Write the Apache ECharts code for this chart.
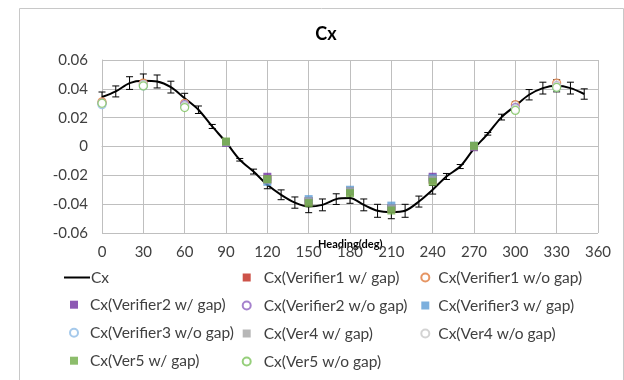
<!DOCTYPE html>
<html>
<head>
<meta charset="utf-8">
<script src="https://cdn.jsdelivr.net/npm/echarts@6/dist/echarts.min.js"></script>
<style>
  html, body { margin: 0; padding: 0; background: #fff; }
  #chart { width: 624px; height: 380px; }
</style>
</head>
<body>
<div id="chart"></div>
<script>
// Heading angles (deg) of the reference curve and its values
const headings = [0, 10, 20, 30, 40, 50, 60, 70, 80, 90, 100, 110, 120, 130, 140, 150, 160, 170,
                  180, 190, 200, 210, 220, 230, 240, 250, 260, 270, 280, 290, 300, 310, 320, 330, 340, 350];
const cxValues = [0.0343, 0.0382, 0.0440, 0.0456, 0.0451, 0.0412, 0.0335, 0.0255, 0.0139, 0.0030,
                  -0.0092, -0.0174, -0.0266, -0.0335, -0.0389, -0.0417, -0.0405, -0.0365,
                  -0.0358, -0.0405, -0.0446, -0.0455, -0.0446, -0.0382, -0.0300, -0.0208,
                  -0.0139, -0.0015, 0.0088, 0.0204, 0.0282, 0.0359, 0.0405, 0.0421, 0.0405, 0.0364];
// Half-height of each error bar
const cxErrors = [0.0035, 0.0038, 0.0044, 0.0047, 0.0045, 0.0041, 0.0034, 0.0026, 0.0014, 0.0003,
                  0.0009, 0.0017, 0.0027, 0.0034, 0.0039, 0.0042, 0.0041, 0.0037,
                  0.0036, 0.0041, 0.0045, 0.0046, 0.0045, 0.0038, 0.0030, 0.0021,
                  0.0014, 0.0002, 0.0009, 0.0020, 0.0028, 0.0036, 0.0041, 0.0042, 0.0041, 0.0036];

// Verifier runs with gap
const gapHeadings = [90, 120, 150, 180, 210, 240, 270];
const ver1Gap = [0.0030, -0.0230, -0.0380, -0.0310, -0.0430, -0.0230, 0.0000];
const ver2Gap = [0.0025, -0.0210, -0.0380, -0.0310, -0.0430, -0.0210, -0.0005];
const ver3Gap = [0.0030, -0.0245, -0.0365, -0.0300, -0.0410, -0.0220, 0.0005];
const ver4Gap = [0.0030, -0.0230, -0.0380, -0.0310, -0.0430, -0.0230, 0.0000];
const ver5Gap = [0.0035, -0.0226, -0.0393, -0.0324, -0.0444, -0.0245, 0.0005];

// Verifier runs without gap
const noGapHeadings = [0, 30, 60, 300, 330];
const ver1NoGap = [0.031, 0.044, 0.030, 0.029, 0.044];
const ver2NoGap = [0.030, 0.043, 0.029, 0.027, 0.042];
const ver3NoGap = [0.029, 0.042, 0.028, 0.026, 0.041];
const ver4NoGap = [0.030, 0.043, 0.028, 0.026, 0.042];
const ver5NoGap = [0.030, 0.042, 0.027, 0.025, 0.041];

const xTicks = { min: 0, max: 360, interval: 30 };
const yTicks = { min: -0.06, max: 0.06, interval: 0.02 };

const textColor = '#404040';
const gridColor = '#bfbfbf';
const fontFamily = 'Lato, "Open Sans", sans-serif';

function zip(xs, ys) { return xs.map((x, i) => [x, ys[i]]); }

function squareSeries(name, xs, ys, color) {
  return {
    name, type: 'scatter', data: zip(xs, ys), symbol: 'rect', symbolSize: 8,
    itemStyle: { color }, z: 5
  };
}
function circleSeries(name, xs, ys, color) {
  return {
    name, type: 'scatter', data: zip(xs, ys), symbol: 'circle', symbolSize: 8,
    itemStyle: { color: '#fff', borderColor: color, borderWidth: 1.2 }, z: 5
  };
}

const series = [
  {
    name: 'Cx', type: 'line', data: zip(headings, cxValues), smooth: 0.3,
    symbol: 'none', lineStyle: { color: '#000', width: 2 }, itemStyle: { color: '#000' }, z: 3
  },
  squareSeries('Cx(Verifier1 w/ gap)', gapHeadings, ver1Gap, '#c0281b'),
  circleSeries('Cx(Verifier1 w/o gap)', noGapHeadings, ver1NoGap, '#e07b3c'),
  squareSeries('Cx(Verifier2 w/ gap)', gapHeadings, ver2Gap, '#7030a0'),
  circleSeries('Cx(Verifier2 w/o gap)', noGapHeadings, ver2NoGap, '#8e62c0'),
  squareSeries('Cx(Verifier3 w/ gap)', gapHeadings, ver3Gap, '#5b9bd5'),
  circleSeries('Cx(Verifier3 w/o gap)', noGapHeadings, ver3NoGap, '#8fbce6'),
  squareSeries('Cx(Ver4 w/ gap)', gapHeadings, ver4Gap, '#a5a5a5'),
  circleSeries('Cx(Ver4 w/o gap)', noGapHeadings, ver4NoGap, '#c8c8c8'),
  squareSeries('Cx(Ver5 w/ gap)', gapHeadings, ver5Gap, '#70ad47'),
  circleSeries('Cx(Ver5 w/o gap)', noGapHeadings, ver5NoGap, '#7cc35a'),
  {
    // error bars with short caps
    type: 'custom', name: 'errors', silent: true, z: 4,
    data: headings.map((h, i) => [h, cxValues[i] - cxErrors[i], cxValues[i] + cxErrors[i]]),
    renderItem: function (params, api) {
      const lo = api.coord([api.value(0), api.value(1)]);
      const hi = api.coord([api.value(0), api.value(2)]);
      const cap = 3.5;
      const style = { stroke: '#000', lineWidth: 1 };
      return {
        type: 'group',
        children: [
          { type: 'line', shape: { x1: lo[0], y1: lo[1], x2: hi[0], y2: hi[1] }, style },
          { type: 'line', shape: { x1: lo[0] - cap, y1: lo[1], x2: lo[0] + cap, y2: lo[1] }, style },
          { type: 'line', shape: { x1: hi[0] - cap, y1: hi[1], x2: hi[0] + cap, y2: hi[1] }, style }
        ]
      };
    }
  }
];

// Legend laid out in three columns of small markers
function legendColumn(left, top, textPad, names, itemWidth) {
  return {
    orient: 'vertical', left, top, height: 140, itemGap: 12,
    itemWidth: itemWidth || 8, itemHeight: 8,
    selectedMode: false,
    textStyle: { color: textColor, fontSize: 15.5, fontFamily, lineHeight: 15, padding: [0, 0, 0, textPad] },
    data: names
  };
}

const option = {
  animation: false,
  backgroundColor: '#fff',
  title: {
    text: 'Cx', left: 321, top: 20, textAlign: 'center',
    textStyle: { fontSize: 18, fontWeight: 'bold', color: '#000', fontFamily }
  },
  grid: { left: 102, right: 26, top: 60, bottom: 147 },
  legend: [
    legendColumn(58, 264.5, -4, [{ name: 'Cx', itemStyle: { opacity: 0 } }], 26),
    legendColumn(64, 291.7, 7, ['Cx(Verifier2 w/ gap)', 'Cx(Verifier3 w/o gap)', 'Cx(Ver5 w/ gap)']),
    legendColumn(236.7, 264.5, 8, ['Cx(Verifier1 w/ gap)', 'Cx(Verifier2 w/o gap)', 'Cx(Ver4 w/ gap)', 'Cx(Ver5 w/o gap)']),
    legendColumn(415.3, 264.5, 4, ['Cx(Verifier1 w/o gap)', 'Cx(Verifier3 w/ gap)', 'Cx(Ver4 w/o gap)'])
  ],
  xAxis: {
    type: 'value', min: xTicks.min, max: xTicks.max, interval: xTicks.interval,
    axisLine: { onZero: true, lineStyle: { color: gridColor } },
    axisTick: { show: false },
    axisLabel: { color: textColor, fontSize: 15, fontFamily, margin: 12 },
    splitLine: { show: true, lineStyle: { color: gridColor } }
  },
  yAxis: {
    type: 'value', min: yTicks.min, max: yTicks.max, interval: yTicks.interval,
    axisLine: { show: true, lineStyle: { color: gridColor } },
    axisTick: { show: false },
    axisLabel: {
      color: textColor, fontSize: 15, fontFamily, margin: 14,
      formatter: v => Math.abs(v) < 1e-9 ? '0' : v.toFixed(2)
    },
    splitLine: { show: true, lineStyle: { color: gridColor } }
  },
  graphic: [
    {
      type: 'rect', left: 17, top: 6, silent: true,
      shape: { width: 604, height: 372 },
      style: { fill: 'none', stroke: '#c8c8c8', lineWidth: 1 }
    },
    {
      type: 'text', left: 318, top: 239,
      style: { text: 'Heading(deg)', fill: '#000', font: 'bold 11px ' + fontFamily }
    }
  ],
  series
};

const chart = echarts.init(document.getElementById('chart'), null, { renderer: 'canvas' });
chart.setOption(option);
</script>
</body>
</html>
